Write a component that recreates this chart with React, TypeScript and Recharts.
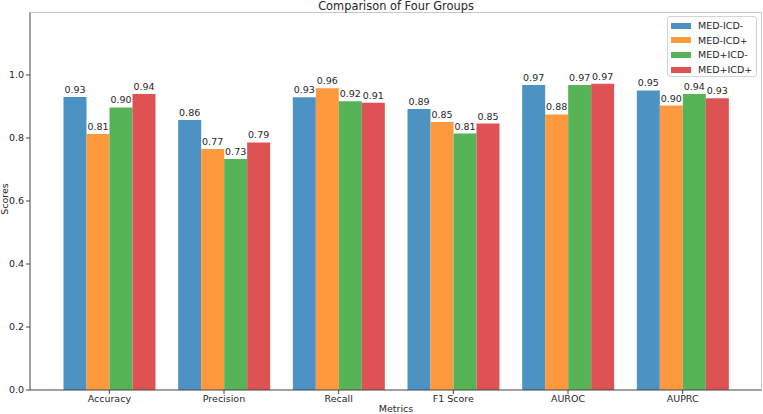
import { Bar, BarChart, LabelList, XAxis, YAxis } from 'recharts'

const CATEGORIES = ['Accuracy', 'Precision', 'Recall', 'F1 Score', 'AUROC', 'AUPRC']
const MED_ICD_MINUS = [0.930, 0.857, 0.929, 0.892, 0.968, 0.951]
const MED_ICD_PLUS = [0.813, 0.765, 0.958, 0.851, 0.875, 0.903]
const MED_PLUS_ICD_MINUS = [0.897, 0.733, 0.917, 0.814, 0.968, 0.940]
const MED_PLUS_ICD_PLUS = [0.940, 0.786, 0.912, 0.846, 0.972, 0.926]
const Y_TICKS = [0, 0.2, 0.4, 0.6, 0.8, 1.0]

const SERIES = [
  { key: 'g1', name: 'MED-ICD-', values: MED_ICD_MINUS, color: '#4c92c3' },
  { key: 'g2', name: 'MED-ICD+', values: MED_ICD_PLUS, color: '#ff993e' },
  { key: 'g3', name: 'MED+ICD-', values: MED_PLUS_ICD_MINUS, color: '#56b356' },
  { key: 'g4', name: 'MED+ICD+', values: MED_PLUS_ICD_PLUS, color: '#de5253' },
]

const data = CATEGORIES.map((metric, i) => {
  const row: Record<string, string | number> = { metric }
  SERIES.forEach((s) => { row[s.key] = s.values[i] })
  return row
})

const FONT = '"DejaVu Sans", sans-serif'
const TEXT = '#262626'
const AXIS = '#444'

function LegendBox() {
  return (
    <div
      style={{
        position: 'absolute',
        left: 667,
        top: 16,
        width: 90,
        height: 61,
        boxSizing: 'border-box',
        border: '1px solid #d4d4d4',
        borderRadius: 3,
        background: 'rgba(255,255,255,0.8)',
        padding: '1.5px 0 0 3px',
        fontFamily: FONT,
        fontSize: 9.5,
        color: TEXT,
      }}
    >
      {SERIES.map((s) => (
        <div key={s.key} style={{ display: 'flex', alignItems: 'center', height: 14.6, whiteSpace: 'nowrap' }}>
          <span style={{ width: 20, height: 6, background: s.color, marginRight: 7, flex: 'none' }} />
          <span>{s.name}</span>
        </div>
      ))}
    </div>
  )
}

export default function App() {
  return (
    <div style={{ position: 'absolute', left: 0, top: 0, width: 763, height: 414, background: '#fff' }}>
      <BarChart
        width={763}
        height={414}
        data={data}
        margin={{ top: 12, right: 1, left: 0, bottom: 0 }}
        barCategoryGap={11.5}
        barGap={0}
        style={{ fontFamily: FONT }}
      >
        <XAxis
          dataKey="metric"
          height={24}
          padding={{ left: 22, right: 22 }}
          stroke={AXIS}
          tickSize={4}
          tickMargin={1}
          tick={{ fill: TEXT, fontSize: 9.5 }}
        />
        <YAxis
          width={30}
          domain={[0, 1.2]}
          ticks={Y_TICKS}
          tickFormatter={(v: number) => v.toFixed(1)}
          stroke={AXIS}
          tickSize={4}
          tickMargin={2}
          tick={{ fill: TEXT, fontSize: 9.5 }}
        />
        {SERIES.map((s) => (
          <Bar key={s.key} dataKey={s.key} name={s.name} fill={s.color} isAnimationActive={false}>
            <LabelList
              dataKey={s.key}
              position="top"
              offset={4}
              formatter={(v: any) => Number(v).toFixed(2)}
              style={{ fill: TEXT, fontSize: 9.5 }}
            />
          </Bar>
        ))}
      </BarChart>
      {/* frame, title and axis titles drawn on top */}
      <svg width={763} height={414} style={{ position: 'absolute', left: 0, top: 0, pointerEvents: 'none' }}>
        <polyline points="30,12.5 761.5,12.5 761.5,390" fill="none" stroke="#c8c8c8" strokeWidth={1} />
        <text x={396} y={9.5} textAnchor="middle" fontFamily={FONT} fontSize={11.4} fill={TEXT}>
          Comparison of Four Groups
        </text>
        <text x={396} y={412} textAnchor="middle" fontFamily={FONT} fontSize={9.5} fill={TEXT}>
          Metrics
        </text>
        <text x={7.5} y={199} transform="rotate(-90 7.5 199)" textAnchor="middle" fontFamily={FONT} fontSize={9.5} fill={TEXT}>
          Scores
        </text>
      </svg>
      <LegendBox />
    </div>
  )
}
